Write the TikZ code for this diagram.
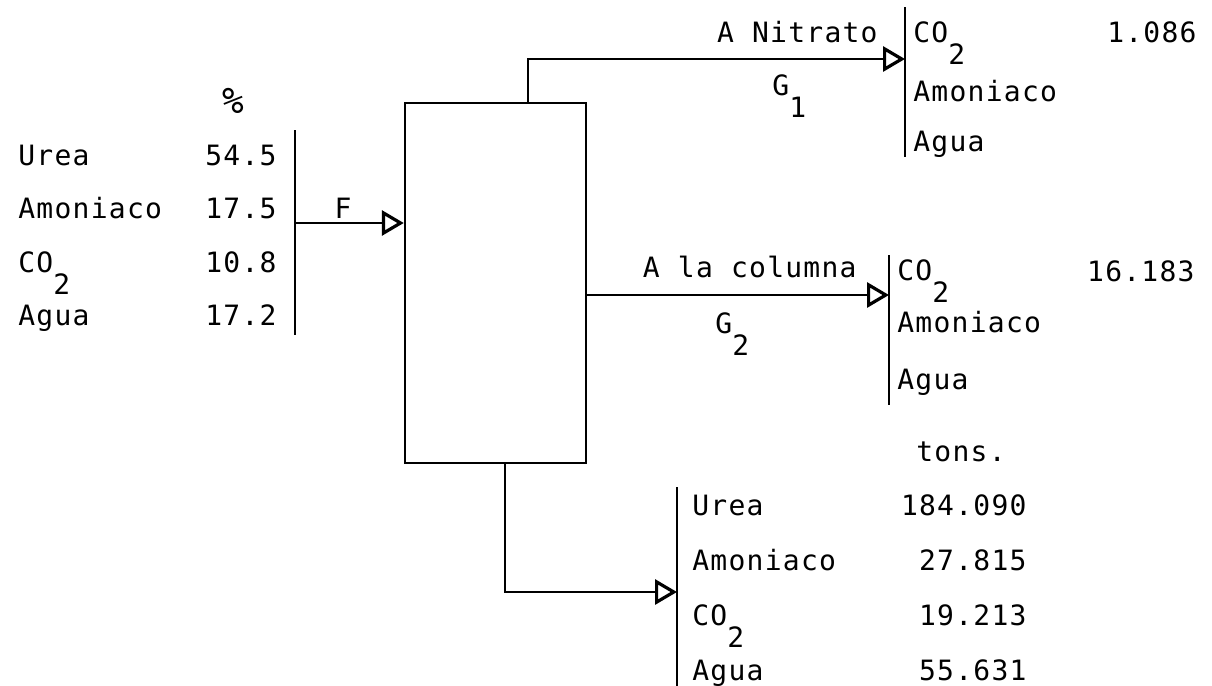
\documentclass[tikz,border=0pt]{standalone}
\usepackage{fontspec}
\setmainfont{DejaVu Sans Mono}[LetterSpace=4.5]
\usetikzlibrary{arrows.meta}
\newcommand{\bajo}[1]{\raisebox{-1.1\height}{#1}}
\newcommand{\cotwo}{CO\bajo{2}}

\begin{document}
\begin{tikzpicture}[x=0.5pt,y=-0.5pt,
    every node/.style={font=\fontsize{14}{16}\selectfont, inner sep=0pt},
    flow/.style={line width=1.4pt, -{Triangle[open,length=11pt,width=12.5pt,line width=1.6pt]}},
    bar/.style={line width=1.4pt}]
  \useasboundingbox (0,0) rectangle (1212,686);

  % equipo
  \node[draw, line width=1.2pt, minimum width=90.5pt, minimum height=180pt] (equipo) at (495.5,283) {};

  % barras
  \draw[bar] (295,130) -- (295,335);
  \draw[bar] (905,7) -- (905,157);
  \draw[bar] (889,255) -- (889,405);
  \draw[bar] (677,487) -- (677,686);

  % alimentacion F
  \node[anchor=base, font=\fontsize{18}{20}\selectfont] (pct) at (233,113) {\%};
  \node[anchor=base west] (fUrea) at (18,165) {Urea};
  \node[anchor=base east] (fUreaV) at (277,165) {54.5};
  \node[anchor=base west] (fAmon) at (18,218) {Amoniaco};
  \node[anchor=base east] (fAmonV) at (277,218) {17.5};
  \node[anchor=base west] (fCO) at (18,272) {\cotwo};
  \node[anchor=base east] (fCOV) at (277,272) {10.8};
  \node[anchor=base west] (fAgua) at (18,325) {Agua};
  \node[anchor=base east] (fAguaV) at (277,325) {17.2};
  \node[anchor=base] (F) at (343,218) {F};
  \coordinate (fIn) at (295,223);
  \draw[flow] (fIn) -- (fIn -| equipo.west);

  % G1 a nitrato
  \coordinate (g1Out) at (528,103);
  \coordinate (g1In) at (905,59);
  \draw[flow] (g1Out) |- (g1In);
  \node[anchor=base east] (nitrato) at (878,42) {A Nitrato};
  \node[anchor=base west] (G1) at (772,95) {G\bajo{1}};
  \node[anchor=base west] (g1CO) at (913,42) {\cotwo};
  \node[anchor=base west] (g1Amon) at (913,101) {Amoniaco};
  \node[anchor=base west] (g1Agua) at (913,151) {Agua};
  \node[anchor=base east] (g1COV) at (1197,42) {1.086};

  % G2 a la columna
  \coordinate (g2In) at (889,295);
  \draw[flow] (g2In -| equipo.east) -- (g2In);
  \node[anchor=base east] (columna) at (857,277) {A la columna};
  \node[anchor=base west] (G2) at (715,333) {G\bajo{2}};
  \node[anchor=base west] (g2CO) at (897,280) {\cotwo};
  \node[anchor=base west] (g2Amon) at (897,332) {Amoniaco};
  \node[anchor=base west] (g2Agua) at (897,389) {Agua};
  \node[anchor=base east] (g2COV) at (1195,281) {16.183};

  % producto liquido
  \coordinate (lOut) at (505,463);
  \coordinate (lIn) at (677,592);
  \draw[flow] (lOut) |- (lIn);
  \node[anchor=base] (tons) at (961,461) {tons.};
  \node[anchor=base west] (lUrea) at (692,515) {Urea};
  \node[anchor=base east] (lUreaV) at (1027,515) {184.090};
  \node[anchor=base west] (lAmon) at (692,570) {Amoniaco};
  \node[anchor=base east] (lAmonV) at (1027,570) {27.815};
  \node[anchor=base west] (lCO) at (692,625) {\cotwo};
  \node[anchor=base east] (lCOV) at (1027,625) {19.213};
  \node[anchor=base west] (lAgua) at (692,680) {Agua};
  \node[anchor=base east] (lAguaV) at (1027,680) {55.631};
\end{tikzpicture}
\end{document}
